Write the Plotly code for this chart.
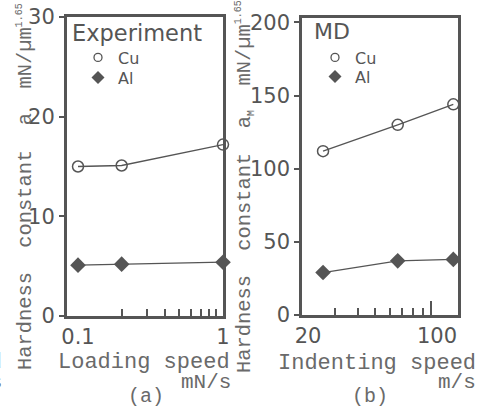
import plotly.graph_objects as go

W, H = 494, 407

# ---- data ----
exp_speed = [0.1, 0.2, 1.0]          # mN/s
exp_cu = [15.0, 15.1, 17.2]
exp_al = [5.1, 5.2, 5.4]

md_speed = [26, 66, 132]             # m/s
md_cu = [112, 130, 144]
md_al = [29, 37, 38]

exp_yticks = [0, 10, 20, 30]
md_yticks = [0, 50, 100, 150, 200]
exp_xticks = [0.1, 1]
exp_xticktext = ["0.1", "1"]
exp_xminor = [0.2, 0.3, 0.4, 0.5, 0.6, 0.7, 0.8, 0.9]
md_xticks = [20, 100]
md_xticktext = ["20", "100"]
md_xminor = [30, 40, 50, 60, 70, 80, 90]

GREY = "#555555"
TXT = "#6a6a6a"
SANS = "DejaVu Sans"
MONO = "Liberation Mono"


def fx(p):
    return p / W


def fy(p):
    return 1 - p / H


fig = go.Figure()

# panel (a)
fig.add_trace(go.Scatter(x=exp_speed, y=exp_cu, mode="lines+markers", xaxis="x", yaxis="y",
                         line=dict(color=GREY, width=1.3),
                         marker=dict(symbol="circle-open", size=11, color=GREY, line=dict(width=1.5)),
                         showlegend=False, cliponaxis=False))
fig.add_trace(go.Scatter(x=exp_speed, y=exp_al, mode="lines+markers", xaxis="x", yaxis="y",
                         line=dict(color=GREY, width=1.3),
                         marker=dict(symbol="diamond", size=12, color=GREY),
                         showlegend=False, cliponaxis=False))
# panel (b)
fig.add_trace(go.Scatter(x=md_speed, y=md_cu, mode="lines+markers", xaxis="x2", yaxis="y2",
                         line=dict(color=GREY, width=1.3),
                         marker=dict(symbol="circle-open", size=11, color=GREY, line=dict(width=1.5)),
                         showlegend=False, cliponaxis=False))
fig.add_trace(go.Scatter(x=md_speed, y=md_al, mode="lines+markers", xaxis="x2", yaxis="y2",
                         line=dict(color=GREY, width=1.3),
                         marker=dict(symbol="diamond", size=12, color=GREY),
                         showlegend=False, cliponaxis=False))

# legend entries (one legend per row for exact placement)
for lg_cu, lg_al, xa, ya in (("legend", "legend3", "x", "y"), ("legend2", "legend4", "x2", "y2")):
    fig.add_trace(go.Scatter(x=[None], y=[None], mode="markers", name="Cu", xaxis=xa, yaxis=ya,
                             marker=dict(symbol="circle-open", size=8, color=GREY, line=dict(width=1.3)),
                             legend=lg_cu))
    fig.add_trace(go.Scatter(x=[None], y=[None], mode="markers", name="Al", xaxis=xa, yaxis=ya,
                             marker=dict(symbol="diamond", size=10, color=GREY),
                             legend=lg_al))

tickfont = dict(family=SANS, size=21, color=GREY)
axline = dict(showline=True, mirror=True, linecolor=GREY, linewidth=2.5, showgrid=False,
              zeroline=False, automargin=False)
legfont = dict(family=SANS, size=16, color=GREY)


def leg(x, ytop):
    return dict(x=fx(x), y=fy(ytop), xanchor="left", yanchor="top", bgcolor="rgba(0,0,0,0)",
                font=legfont)


fig.update_layout(
    width=W, height=H,
    margin=dict(l=0, r=0, t=0, b=0, autoexpand=False),
    paper_bgcolor="white", plot_bgcolor="white",
    xaxis=dict(type="log", domain=[fx(66.7), fx(223)], range=[-1.078, 0.0], anchor="y",
               tickvals=exp_xticks, ticktext=exp_xticktext, ticks="", tickfont=tickfont,
               minor=dict(tickvals=exp_xminor, ticks="inside", ticklen=7, tickwidth=2, tickcolor=GREY),
               **axline),
    yaxis=dict(domain=[fy(316), fy(17)], range=[0, 30], anchor="x",
               tickvals=exp_yticks, ticks="outside", ticklen=5, tickwidth=2, tickcolor=GREY,
               tickfont=tickfont, **axline),
    xaxis2=dict(type="log", domain=[fx(302), fx(458)], range=[1.30103, 2.146], anchor="y2",
                tickvals=md_xticks, ticktext=md_xticktext, ticks="inside", ticklen=14, tickwidth=2,
                tickcolor=GREY, tickfont=tickfont, ticklabelshift=6,
                minor=dict(tickvals=md_xminor, ticks="inside", ticklen=7, tickwidth=2, tickcolor=GREY),
                **axline),
    yaxis2=dict(domain=[fy(315), fy(18)], range=[0, 203], anchor="x2",
                tickvals=md_yticks, ticks="outside", ticklen=5, tickwidth=2, tickcolor=GREY,
                tickfont=tickfont, **axline),
    legend=leg(78, 40.5),
    legend3=leg(78, 60.5),
    legend2=leg(315, 40.5),
    legend4=leg(315, 59.5),
)

ann = []


def text(s, x, y, xanchor="left", size=22, family=MONO, color=TXT, angle=0, yanchor="middle"):
    ann.append(dict(text=s, x=fx(x), y=fy(y), xref="paper", yref="paper", xanchor=xanchor,
                    yanchor=yanchor, showarrow=False, textangle=angle,
                    font=dict(family=family, size=size, color=color)))


# panel titles
text("Experiment", 70, 33, size=22.5, family=SANS, color=GREY)
text("MD", 312, 32, size=22, family=SANS, color=GREY)

# axis titles
text("Loading speed", 56, 362)
text("mN/s", 233, 382, xanchor="right", size=21)
text("(a)", 146, 396, xanchor="center", size=20)
text("Indenting speed", 276, 363)
text("m/s", 478, 382, xanchor="right", size=21)
text("(b)", 370, 396, xanchor="center", size=20)

sup = '<sup><span style="font-size:10px">1.65</span></sup>'
text("Hardness\u00a0 constant\u00a0 a\u00a0 mN/\u00b5m" + sup, 25, 187, xanchor="center",
     size=20.4, angle=-90)
text("Hardness\u00a0 constant\u00a0 a<sub><span style=\"font-size:10px\">M</span></sub>\u00a0 mN/\u00b5m" + sup,
     245, 187, xanchor="center", size=20.4, angle=-90)

# fragments of neighbouring figure cut at the left edge
text("speed", 4, 362, xanchor="right")
text("mN/s", 4, 382, xanchor="right", size=21)

fig.update_layout(annotations=ann)

fig.write_html("out.html")
